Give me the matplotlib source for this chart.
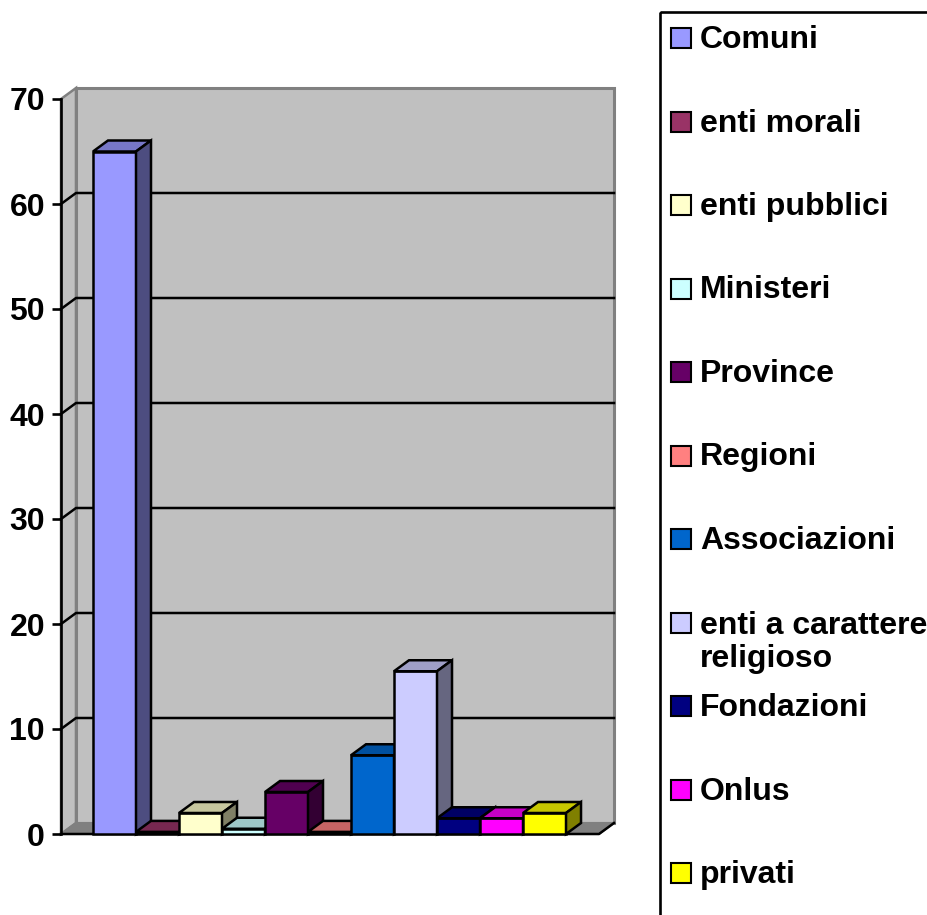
import numpy as np
import matplotlib.pyplot as plt
from matplotlib.patches import Polygon, Rectangle
from matplotlib.transforms import Affine2D
from matplotlib.colors import to_rgb

plt.rcParams['font.family'] = ['Liberation Sans', 'DejaVu Sans']
plt.rcParams['font.weight'] = 'bold'

# dati (percentuali)
categorie = ['Comuni', 'enti morali', 'enti pubblici', 'Ministeri', 'Province',
             'Regioni', 'Associazioni', 'enti a carattere\nreligioso',
             'Fondazioni', 'Onlus', 'privati']
valori = [65, 0.2, 2, 0.5, 4, 0.2, 7.5, 15.5, 1.5, 1.5, 2]
colori = ['#9999FF', '#993366', '#FFFFCC', '#CCFFFF', '#660066', '#FF8080',
          '#0066CC', '#CCCCFF', '#000080', '#FF00FF', '#FFFF00']
yticks = [0, 10, 20, 30, 40, 50, 60, 70]

W, H = 927, 915
fig = plt.figure(figsize=(W / 100, H / 100), dpi=100)
ax = fig.add_axes([61 / W, 1 - 834 / H, 538 / W, 735 / H])

xmin, xmax = -1.244, 11.267
ax.set_xlim(xmin, xmax)
ax.set_ylim(0, 70)

# profondita' 3D: 15 px a destra, 11 px in alto
dx = 15 / (538 / (xmax - xmin))
dy = 11 / (735 / 70)

wall = '#C0C0C0'
edge_g = '#808080'

# pareti e pavimento
left_wall = Polygon([(xmin, 0), (xmin, 70), (xmin + dx, 70 + dy), (xmin + dx, dy)],
                    fc=wall, ec=edge_g, lw=1.8, clip_on=False, zorder=1)
ax.add_patch(left_wall)
back_wall = Rectangle((xmin + dx, dy), xmax - xmin, 70, fc=wall, ec=edge_g,
                      lw=2.2, clip_on=False, zorder=1)
ax.add_patch(back_wall)
floor = Polygon([(xmin, 0), (xmax, 0), (xmax + dx, dy), (xmin + dx, dy)],
                fc='#808080', ec=edge_g, lw=1.5, clip_on=False, zorder=2)
ax.add_patch(floor)
ax.plot([xmin, xmax, xmax + dx], [0, 0, dy], color='black', lw=1.8,
        clip_on=False, zorder=2)

# griglia sulla parete
for t in yticks[1:-1]:
    ax.plot([xmin, xmin + dx, xmax + dx], [t, t + dy, t + dy], color='black',
            lw=1.8, clip_on=False, zorder=1.5)


def shade(c, f):
    r, g, b = to_rgb(c)
    return (r * f, g * f, b * f)


# barre 3D
for i, (v, c) in enumerate(zip(valori, colori)):
    x0, x1 = i - 0.5, i + 0.5
    kw = dict(ec='black', lw=1.8, joinstyle='miter', clip_on=False, zorder=3)
    ax.add_patch(Polygon([(x0, 0), (x1, 0), (x1, v), (x0, v)], fc=c, **kw))
    ax.add_patch(Polygon([(x0, v), (x1, v), (x1 + dx, v + dy), (x0 + dx, v + dy)],
                         fc=shade(c, 0.78), **kw))
    ax.add_patch(Polygon([(x1, 0), (x1 + dx, dy), (x1 + dx, v + dy), (x1, v)],
                         fc=shade(c, 0.5), **kw))

# assi
for s in ['top', 'right', 'bottom']:
    ax.spines[s].set_visible(False)
ax.spines['left'].set_linewidth(1.9)
ax.spines['left'].set_zorder(4)
ax.set_xticks([])
ax.set_yticks(yticks)
ax.tick_params(axis='y', length=6.5, width=1.9, pad=5, labelsize=23)
ax.patch.set_visible(False)

# legenda (coordinate in pixel)
pix = Affine2D().scale(1 / W, -1 / H).translate(0, 1) + fig.transFigure
fig.patches.append(Rectangle((660, 12), 320, 960, transform=pix, fill=False,
                             ec='black', lw=1.9, clip_on=False))
for i, (lab, c) in enumerate(zip(categorie, colori)):
    yc = 38 + i * 83.5
    fig.patches.append(Rectangle((671, yc - 10), 20, 20, transform=pix, fc=c,
                                 ec='black', lw=1.5))
    nrighe = lab.count('\n')
    fig.text(700, yc + 10 + nrighe * 35, lab, transform=pix, fontsize=23,
             fontweight='bold', va='baseline', ha='left', linespacing=1.16)

fig.savefig('out.png', dpi=100)
